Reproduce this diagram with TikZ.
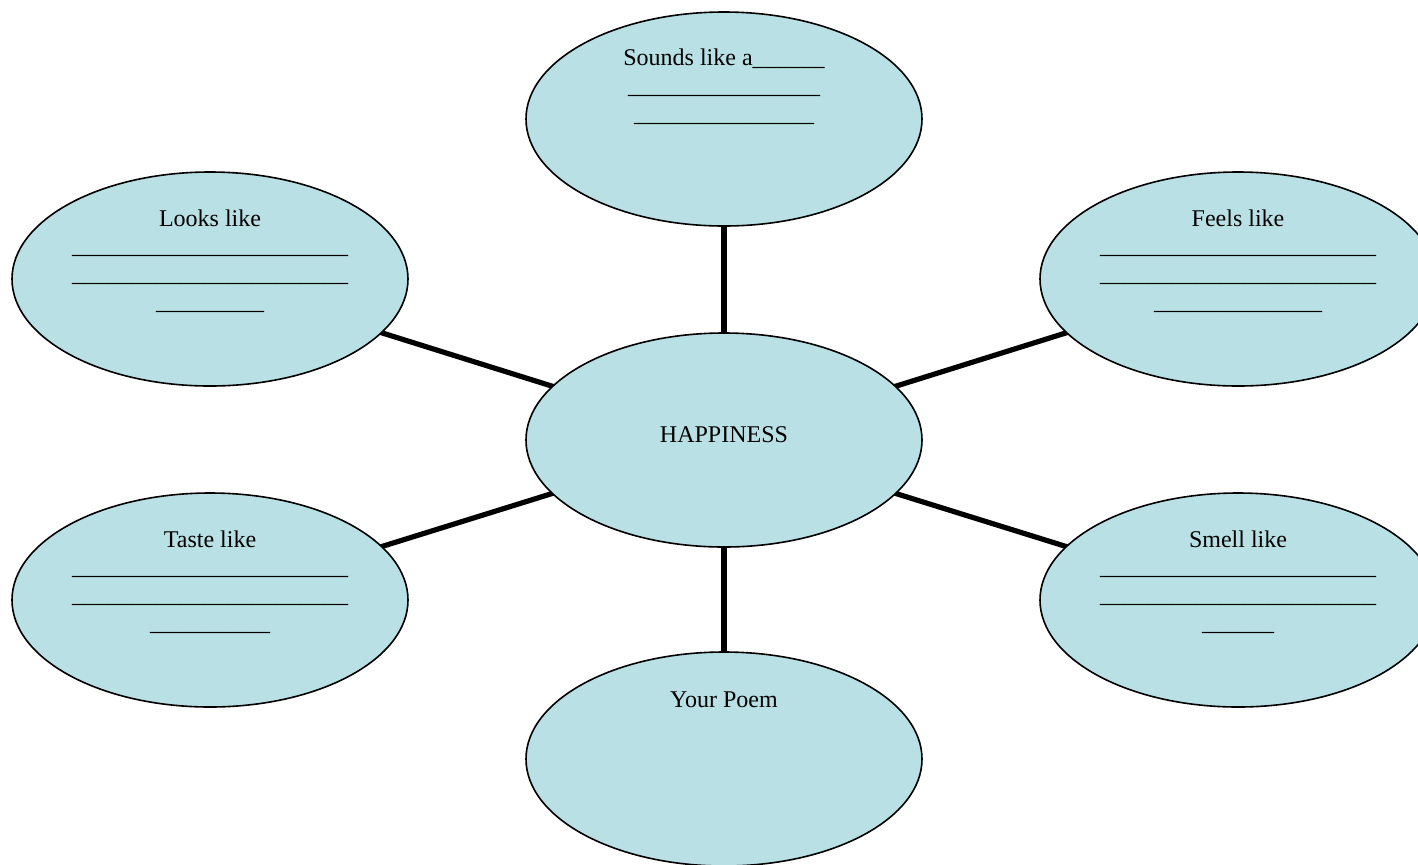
\documentclass[tikz,border=0pt]{standalone}
\usepackage{fontspec}
\setmainfont{Liberation Serif}
\usetikzlibrary{shapes.geometric}
\pgfdeclarelayer{background}
\pgfsetlayers{background,main}
\definecolor{bubble}{RGB}{185,224,228}
\newcommand{\us}[1]{\foreach \i in {1,...,#1}{\_}}
\begin{document}
\begin{tikzpicture}[x=0.5pt,y=-0.5pt,
  bubblebox/.style={ellipse,draw=black,line width=0.8pt,fill=bubble,
    minimum width=198pt,minimum height=107pt,inner sep=0pt,outer sep=0pt},
  lbl/.style={align=center,inner sep=0pt,anchor=base,
    font=\fontsize{12}{13.8}\selectfont},
  conn/.style={line width=2.6pt,draw=black}]
\useasboundingbox (0,0) rectangle (1418,864);
\clip (0,0) rectangle (1418,864);
\node[bubblebox] (c)  at (724,440) {};
\node[bubblebox] (t)  at (724,119) {};
\node[bubblebox] (b)  at (724,759) {};
\node[bubblebox] (lt) at (210,279) {};
\node[bubblebox] (lb) at (210,600) {};
\node[bubblebox] (rt) at (1238,279) {};
\node[bubblebox] (rb) at (1238,600) {};
\begin{pgfonlayer}{background}
\draw[conn] (c.center) -- (t.center);
\draw[conn] (c.center) -- (b.center);
\draw[conn] (c.center) -- (lt.center);
\draw[conn] (c.center) -- (lb.center);
\draw[conn] (c.center) -- (rt.center);
\draw[conn] (c.center) -- (rb.center);
\end{pgfonlayer}
\node[lbl] (cT) at (724,442) {HAPPINESS};
\node[lbl] (tT) at (724,121) {Sounds like a\us{6}\\\us{16}\\\us{15}};
\node[lbl] (ltT) at (210,309) {Looks like\\\us{23}\\\us{23}\\\us{9}};
\node[lbl] (rtT) at (1238,309) {Feels like\\\us{23}\\\us{23}\\\us{14}};
\node[lbl] (lbT) at (210,630) {Taste like\\\us{23}\\\us{23}\\\us{10}};
\node[lbl] (rbT) at (1238,630) {Smell like\\\us{23}\\\us{23}\\\us{6}};
\node[lbl] (bT) at (724,707) {Your Poem};
\end{tikzpicture}
\end{document}
